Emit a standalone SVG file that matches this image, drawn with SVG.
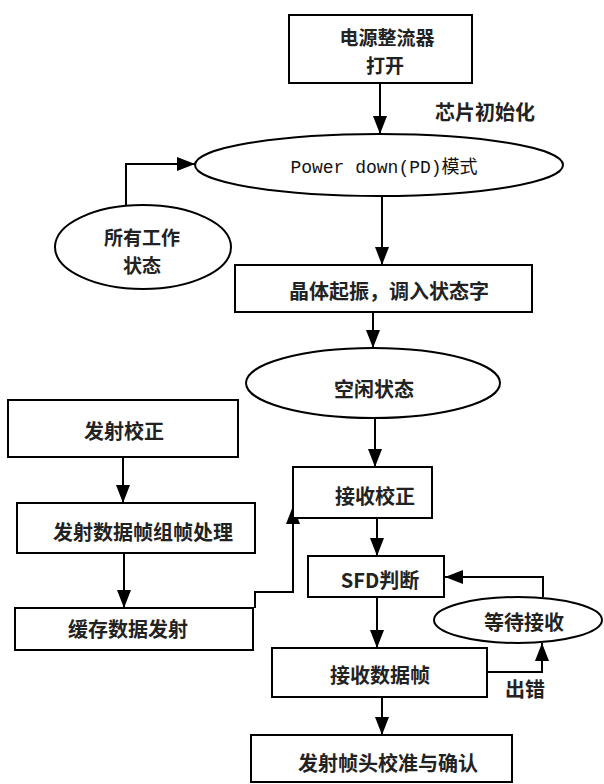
<svg xmlns="http://www.w3.org/2000/svg" width="604" height="784" viewBox="0 0 604 784">
<defs>
<marker id="ah" markerUnits="userSpaceOnUse" markerWidth="18" markerHeight="14" refX="18" refY="7" orient="auto">
<path d="M0,0 L18,7 L0,14 z" fill="#000"/>
</marker>
<style>
.n{fill:#fff;stroke:#000;stroke-width:2}
.t{font-family:"Noto Sans CJK SC",sans-serif;font-size:20px;font-weight:bold;fill:#222;text-anchor:middle}
.t2{font-size:19px}
.m{font-family:"Liberation Mono","Noto Sans CJK SC",monospace;font-size:18px;fill:#111;text-anchor:middle}
.c{fill:none;stroke:#000;stroke-width:2;marker-end:url(#ah)}
</style>
</defs>
<rect width="604" height="784" fill="#fff"/>
<g id="connectors">
<path class="c" d="M380,83 V134"/>
<path class="c" d="M126,205 V164 H195"/>
<path class="c" d="M382,196 V265"/>
<path class="c" d="M373,312 V348"/>
<path class="c" d="M375,419 V467"/>
<path class="c" d="M123,457 V503"/>
<path class="c" d="M124,553 V608"/>
<path class="c" d="M255,608 V592 H293 V506"/>
<path class="c" d="M377,518 V556"/>
<path class="c" d="M543,597 V577 H445"/>
<path class="c" d="M377,597 V648"/>
<path class="c" d="M487,672 H542 V643"/>
<path class="c" d="M382,697 V735"/>
<text class="t" x="485" y="120">芯片初始化</text>
<text class="t" x="525" y="697">出错</text>
</g>
<g id="power">
<rect class="n" x="289" y="15" width="183" height="68"/>
<text class="t t2" x="387" y="45">电源整流器</text>
<text class="t t2" x="385" y="73">打开</text>
</g>
<g id="pd">
<ellipse class="n" cx="379" cy="165" rx="184" ry="31"/>
<text class="m" x="384" y="173">Power down(PD)模式</text>
</g>
<g id="allstates">
<ellipse class="n" cx="143" cy="247" rx="88" ry="42"/>
<text class="t t2" x="142" y="245">所有工作</text>
<text class="t t2" x="142" y="273">状态</text>
</g>
<g id="crystal">
<rect class="n" x="235" y="265" width="297" height="47"/>
<text class="t" x="389" y="299">晶体起振，调入状态字</text>
</g>
<g id="idle">
<ellipse class="n" cx="373" cy="383" rx="127" ry="35"/>
<text class="t" x="374" y="397">空闲状态</text>
</g>
<g id="txcal">
<rect class="n" x="8" y="400" width="230" height="57"/>
<text class="t" x="124" y="439">发射校正</text>
</g>
<g id="txframe">
<rect class="n" x="17" y="503" width="238" height="50"/>
<text class="t" x="143" y="540">发射数据帧组帧处理</text>
</g>
<g id="txbuf">
<rect class="n" x="15" y="608" width="238" height="42"/>
<text class="t" x="128" y="637">缓存数据发射</text>
</g>
<g id="rxcal">
<rect class="n" x="293" y="467" width="139" height="51"/>
<text class="t" x="375" y="504">接收校正</text>
</g>
<g id="sfd">
<rect class="n" x="308" y="556" width="136" height="41"/>
<text class="t" x="380" y="588">SFD判断</text>
</g>
<g id="wait">
<ellipse class="n" cx="518" cy="620" rx="84" ry="23"/>
<text class="t" x="524" y="630">等待接收</text>
</g>
<g id="rxframe">
<rect class="n" x="272" y="648" width="215" height="49"/>
<text class="t" x="380" y="683">接收数据帧</text>
</g>
<g id="ack">
<rect class="n" x="251" y="735" width="261" height="47"/>
<text class="t" x="388" y="771">发射帧头校准与确认</text>
</g>
</svg>
